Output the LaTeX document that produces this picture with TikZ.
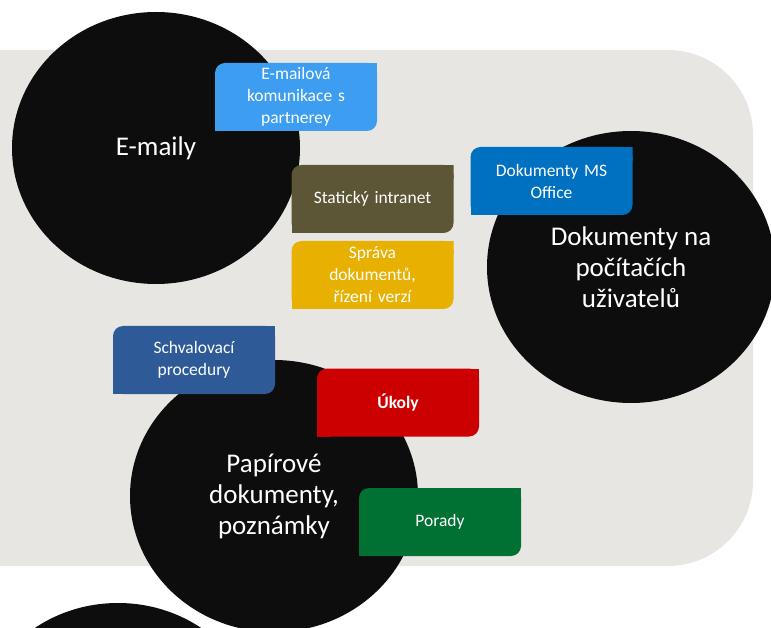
\documentclass[tikz,border=0pt]{standalone}
\usepackage{fontspec}
\setmainfont{Carlito}
\usetikzlibrary{positioning,shapes.geometric}
\definecolor{bggray}{HTML}{E8E6E2}
\definecolor{disc}{HTML}{0D0D0D}
\definecolor{skyblue}{HTML}{3D9DF0}
\definecolor{olive}{HTML}{5C5636}
\definecolor{gold}{HTML}{E8B000}
\definecolor{officeblue}{HTML}{0070C0}
\definecolor{steelblue}{HTML}{2E5B98}
\definecolor{taskred}{HTML}{CC0000}
\definecolor{meetgreen}{HTML}{007033}

\begin{document}
\begin{tikzpicture}[x=1pt,y=-1pt,
		bignode/.style={ellipse,fill=disc,text=white,minimum width=288pt,minimum height=272pt,inner sep=0pt,align=center,font=\fontsize{27}{31}\selectfont},
		tile/.style={minimum width=162pt,minimum height=68pt,inner sep=0pt,text width=150pt,align=center,text=white,font=\fontsize{17.5}{22}\selectfont,
			path picture={
				\fill[#1,rounded corners=10pt] (path picture bounding box.north west) rectangle (path picture bounding box.south east);
				\fill[#1] (path picture bounding box.north east) rectangle ([xshift=-14pt,yshift=-14pt]path picture bounding box.north east);
				\fill[#1] (path picture bounding box.south west) rectangle ([xshift=14pt,yshift=14pt]path picture bounding box.south west);
			}}]
		\clip (0,0) rectangle (771,628);
		\fill[bggray,rounded corners=85pt] (-100,50) rectangle (753,566);

		\node[bignode]	(emaily)	at (156,148)	{E-maily};
		\node[bignode]	(pocitace)	at (631,267)	{Dokumenty na\\počítačích\\uživatelů};
		\node[bignode]	(papir)		at (274,496)	{Papírové\\dokumenty,\\poznámky};
		\node[bignode]	(dalsi)		at (118,739)	{};

		\node[tile=skyblue]		(komunikace)	at (296,97)		{E-mailová\\komunikace s\\partnerey};
		\node[tile=olive]		(intranet)		at (372.5,199)	{Statický intranet};
		\node[tile=gold]		(sprava)		at (372.5,275)	{Správa\\dokumentů,\\řízení verzí};
		\node[tile=officeblue]	(office)		at (551.5,181)	{Dokumenty MS\\Office};
		\node[tile=steelblue]	(schvalovani)	at (194,360)	{Schvalovací\\procedury};
		\node[tile=taskred,font=\fontsize{17.5}{22}\selectfont\bfseries]	(ukoly)	at (398,402.5)	{Úkoly};
		\node[tile=meetgreen]	(porady)		at (440,522)	{Porady};
	\end{tikzpicture}
\end{document}
